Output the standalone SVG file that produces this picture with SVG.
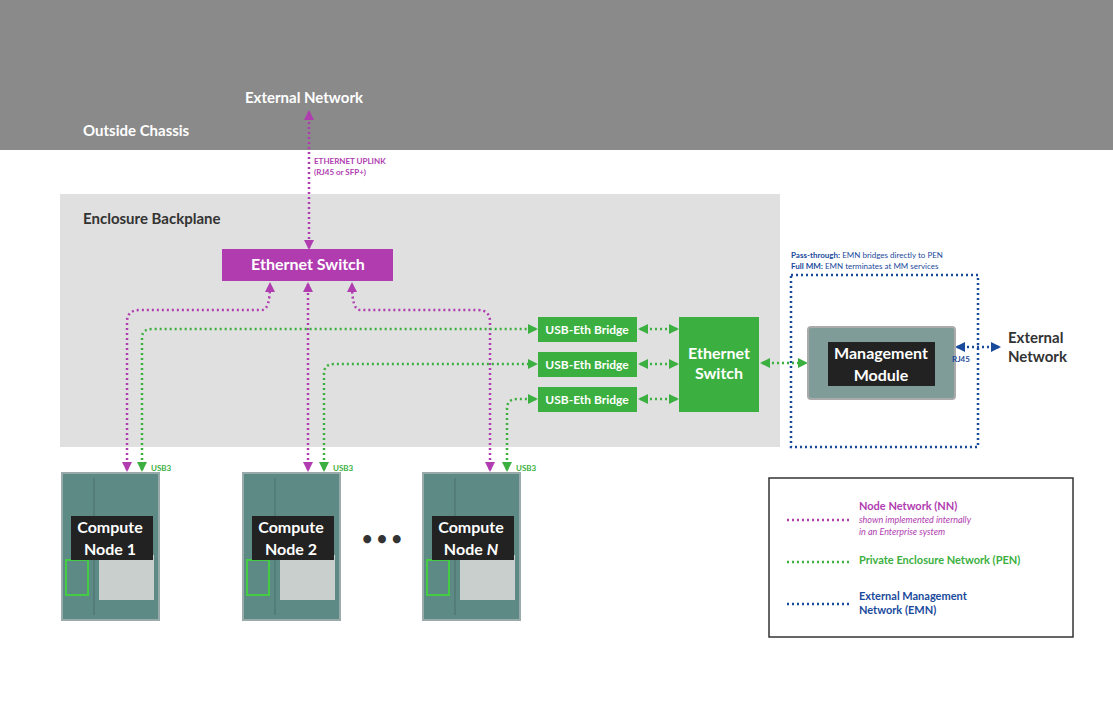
<svg xmlns="http://www.w3.org/2000/svg" width="1113" height="720" viewBox="0 0 1113 720">
<defs>
<style>
text{font-family:Lato,"Noto Sans",sans-serif}
.nn{fill:none;stroke:#b03cb0;stroke-width:2.5;stroke-dasharray:2 3}
.pen{fill:none;stroke:#3bb040;stroke-width:2.5;stroke-dasharray:2 3}
.emn{fill:none;stroke:#1a4a9c;stroke-width:2.5;stroke-dasharray:2 3}
.lbl{font-size:12px;font-weight:bold;fill:#fff}
.big{font-size:16px;font-weight:bold;fill:#fff}
.node{fill:#5e8a86;stroke:#9aa;stroke-width:2}
</style>
<marker id="mp" viewBox="0 0 10 10" refX="8" refY="5" markerWidth="4" markerHeight="4" orient="auto-start-reverse"><path d="M0,0L10,5L0,10z" fill="#b03cb0"/></marker>
<marker id="mg" viewBox="0 0 10 10" refX="8" refY="5" markerWidth="4" markerHeight="4" orient="auto-start-reverse"><path d="M0,0L10,5L0,10z" fill="#3bb040"/></marker>
<marker id="mb" viewBox="0 0 10 10" refX="8" refY="5" markerWidth="4" markerHeight="4" orient="auto-start-reverse"><path d="M0,0L10,5L0,10z" fill="#1a4a9c"/></marker>
</defs>
<rect width="1113" height="720" fill="#fff"/>
<rect width="1113" height="150" fill="#8a8a8a"/>
<text x="245" y="103" font-size="15" font-weight="bold" fill="#fff">External Network</text>
<text x="83" y="136" font-size="15" font-weight="bold" fill="#fff">Outside Chassis</text>
<rect x="60" y="194" width="720" height="253" fill="#e0e0e0"/>
<text x="83" y="224" font-size="15" font-weight="bold" fill="#333">Enclosure Backplane</text>
<text x="314" y="164" font-size="8" font-weight="bold" fill="#b03cb0">ETHERNET UPLINK</text>
<text x="314" y="175" font-size="8" font-weight="bold" fill="#b03cb0">(RJ45 or SFP+)</text>

<g id="connectors">
<path class="nn" d="M309,112V248" marker-start="url(#mp)" marker-end="url(#mp)"/>
<path class="nn" d="M127,470V322Q127,310 140,310H262Q270,310 270,284" marker-start="url(#mp)" marker-end="url(#mp)"/>
<path class="nn" d="M308,470V284" marker-start="url(#mp)" marker-end="url(#mp)"/>
<path class="nn" d="M490,470V322Q490,310 478,310H360Q352,310 352,284" marker-start="url(#mp)" marker-end="url(#mp)"/>
<path class="pen" d="M142,470V338Q142,329 152,329H536" marker-start="url(#mg)" marker-end="url(#mg)"/>
<path class="pen" d="M324,470V374Q324,364 334,364H536" marker-start="url(#mg)" marker-end="url(#mg)"/>
<path class="pen" d="M507,470V409Q507,399 517,399H536" marker-start="url(#mg)" marker-end="url(#mg)"/>
<path class="pen" d="M640,329H677" marker-start="url(#mg)" marker-end="url(#mg)"/>
<path class="pen" d="M640,364H677" marker-start="url(#mg)" marker-end="url(#mg)"/>
<path class="pen" d="M640,399H677" marker-start="url(#mg)" marker-end="url(#mg)"/>
<path class="pen" d="M762,363H806" marker-start="url(#mg)" marker-end="url(#mg)"/>
<path class="emn" d="M957,347H999" marker-start="url(#mb)" marker-end="url(#mb)"/>
<rect class="emn" x="791" y="275" width="187" height="172"/>
</g>

<g id="eth-switch-top"><rect x="222" y="249" width="171" height="32" fill="#b03cb0"/><text x="308" y="270" class="big" text-anchor="middle" font-size="15">Ethernet Switch</text></g>
<g id="bridge1"><rect x="538" y="317" width="99" height="25" fill="#3bb040"/><text x="587" y="334" class="lbl" text-anchor="middle">USB-Eth Bridge</text></g>
<g id="bridge2"><rect x="538" y="352" width="99" height="25" fill="#3bb040"/><text x="587" y="369" class="lbl" text-anchor="middle">USB-Eth Bridge</text></g>
<g id="bridge3"><rect x="538" y="387" width="99" height="25" fill="#3bb040"/><text x="587" y="404" class="lbl" text-anchor="middle">USB-Eth Bridge</text></g>
<g id="eth-switch-pen"><rect x="679" y="317" width="80" height="95" fill="#3bb040"/><text x="719" y="359" class="big" text-anchor="middle" font-size="15">Ethernet</text><text x="719" y="379" class="big" text-anchor="middle" font-size="15">Switch</text></g>

<g id="mm">
<text x="791" y="258" font-size="8" fill="#1a4a9c"><tspan font-weight="bold">Pass-through:</tspan> EMN bridges directly to PEN</text>
<text x="791" y="269" font-size="8" fill="#1a4a9c"><tspan font-weight="bold">Full MM:</tspan> EMN terminates at MM services</text>
<rect x="808" y="327" width="147" height="72" rx="3" fill="#7f9c98" stroke="#aaa" stroke-width="2"/>
<rect x="828" y="342" width="107" height="44" fill="#222"/>
<text x="881" y="359" class="big" text-anchor="middle">Management</text>
<text x="881" y="381" class="big" text-anchor="middle">Module</text>
<text x="952" y="362" font-size="8" font-weight="bold" fill="#1a4a9c">RJ45</text>
<text x="1008" y="343" font-size="15" font-weight="bold" fill="#333">External</text>
<text x="1008" y="362" font-size="15" font-weight="bold" fill="#333">Network</text>
</g>

<g id="node1"><rect class="node" x="62" y="473" width="97" height="147"/><line x1="94" y1="478" x2="94" y2="615" stroke="#4a706c"/><rect x="99" y="555" width="55" height="45" fill="#c8cfcd"/><rect x="66" y="560" width="22" height="35" fill="none" stroke="#4c4" stroke-width="2"/><rect x="71" y="516" width="82" height="44" fill="#222"/><text x="110" y="533" class="big" text-anchor="middle">Compute</text><text x="110" y="555" class="big" text-anchor="middle">Node 1</text><text x="151" y="471" font-size="8" font-weight="bold" fill="#3bb040">USB3</text></g>
<g id="node2"><rect class="node" x="243" y="473" width="97" height="147"/><line x1="275" y1="478" x2="275" y2="615" stroke="#4a706c"/><rect x="280" y="555" width="55" height="45" fill="#c8cfcd"/><rect x="247" y="560" width="22" height="35" fill="none" stroke="#4c4" stroke-width="2"/><rect x="252" y="516" width="82" height="44" fill="#222"/><text x="291" y="533" class="big" text-anchor="middle">Compute</text><text x="291" y="555" class="big" text-anchor="middle">Node 2</text><text x="333" y="471" font-size="8" font-weight="bold" fill="#3bb040">USB3</text></g>
<text x="382" y="545" font-size="18" font-weight="bold" fill="#333" text-anchor="middle">• • •</text>
<g id="nodeN"><rect class="node" x="423" y="473" width="97" height="147"/><line x1="455" y1="478" x2="455" y2="615" stroke="#4a706c"/><rect x="460" y="555" width="55" height="45" fill="#c8cfcd"/><rect x="427" y="560" width="22" height="35" fill="none" stroke="#4c4" stroke-width="2"/><rect x="432" y="516" width="82" height="44" fill="#222"/><text x="471" y="533" class="big" text-anchor="middle">Compute</text><text x="471" y="555" class="big" text-anchor="middle">Node <tspan font-style="italic">N</tspan></text><text x="516" y="471" font-size="8" font-weight="bold" fill="#3bb040">USB3</text></g>

<g id="legend">
<rect x="769" y="478" width="304" height="159" fill="#fff" stroke="#333" stroke-width="1.5"/>
<line class="nn" x1="787" y1="520" x2="850" y2="520"/>
<text x="859" y="510" font-size="11" font-weight="bold" fill="#b03cb0">Node Network (NN)</text>
<text x="859" y="523" font-size="9" font-style="italic" fill="#b03cb0">shown implemented internally</text>
<text x="859" y="535" font-size="9" font-style="italic" fill="#b03cb0">in an Enterprise system</text>
<line class="pen" x1="787" y1="562" x2="850" y2="562"/>
<text x="859" y="564" font-size="11" font-weight="bold" fill="#3bb040">Private Enclosure Network (PEN)</text>
<line class="emn" x1="787" y1="604" x2="850" y2="604"/>
<text x="859" y="600" font-size="11" font-weight="bold" fill="#1a4a9c">External Management</text>
<text x="859" y="614" font-size="11" font-weight="bold" fill="#1a4a9c">Network (EMN)</text>
</g>
</svg>
